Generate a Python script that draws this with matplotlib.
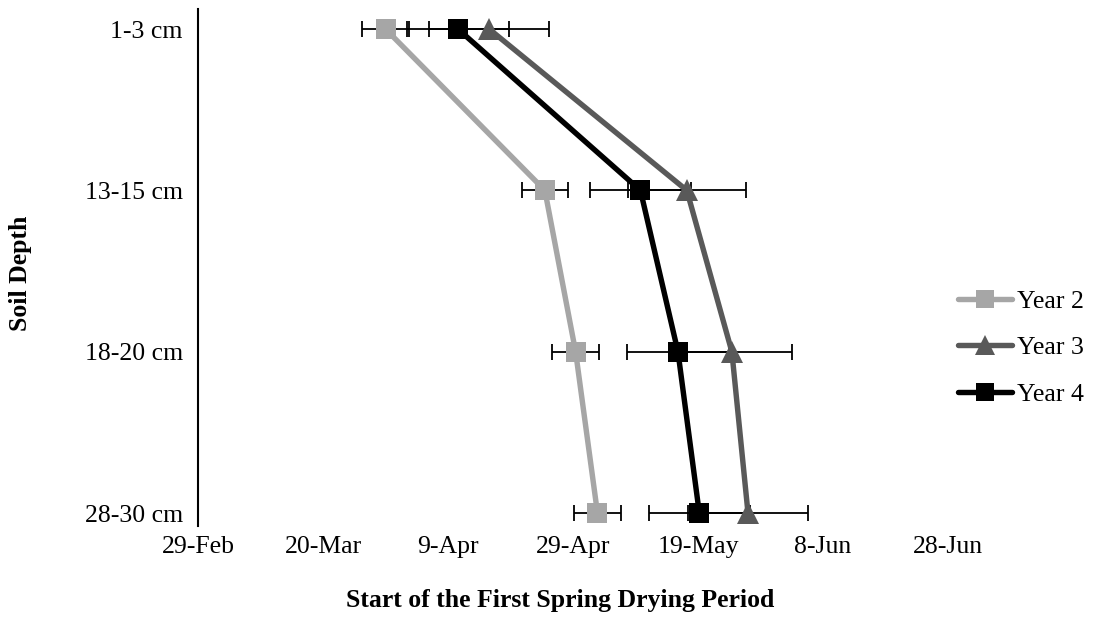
import matplotlib
matplotlib.use("Agg")
import matplotlib.pyplot as plt
import matplotlib.dates as mdates
import numpy as np

depths = ["1-3 cm", "13-15 cm", "18-20 cm", "28-30 cm"]
tick_dates = ["2012-02-29", "2012-03-20", "2012-04-09", "2012-04-29",
              "2012-05-19", "2012-06-08", "2012-06-28"]
year2 = ["2012-03-30", "2012-04-24 12:00", "2012-04-29 10:00", "2012-05-02 22:00"]
year3 = ["2012-04-15 14:00", "2012-05-17 05:00", "2012-05-24 10:00", "2012-05-27"]
year4 = ["2012-04-10 14:00", "2012-05-09 19:00", "2012-05-15 19:00", "2012-05-19 05:00"]
err2 = [3.7, 3.7, 3.7, 3.7]
err3 = [9.6, 9.4, 9.6, 9.6]
err4 = [8.1, 8.1, 8.1, 8.1]

plt.rcParams['font.family'] = ['Liberation Serif', 'DejaVu Serif']
FS = 18.5

fig = plt.figure(figsize=(10.94, 6.17), dpi=100)
ax = fig.add_axes([198/1094, (617-526)/617, 750/1094, (526-9)/617])

ypos = np.arange(len(depths))[::-1]  # 1-3 cm at top
series = [
    ("Year 2", year2, err2, "#A6A6A6", "s", 14.5),
    ("Year 3", year3, err3, "#595959", "^", 15.5),
    ("Year 4", year4, err4, "#000000", "s", 14.5),
]
for name, vals, err, col, mk, ms in series:
    x = mdates.datestr2num(vals)
    ax.errorbar(x, ypos, xerr=err, fmt='none', ecolor='black', elinewidth=1.3,
                capsize=5.5, capthick=1.3, zorder=2)
    ax.plot(x, ypos, color=col, lw=3.9, marker=mk, markersize=ms,
            markeredgewidth=0, label=name, zorder=3, solid_joinstyle='round',
            solid_capstyle='round')

ticks = mdates.datestr2num(tick_dates)
ax.set_xlim(ticks[0], ticks[-1])
ax.set_xticks(ticks)
ax.xaxis.set_major_formatter(mdates.DateFormatter('%-d-%b'))
ax.set_ylim(-0.08, 3.124)
ax.set_yticks(ypos)
ax.set_yticklabels(depths)
ax.tick_params(axis='both', length=0, labelsize=FS)
ax.tick_params(axis='y', pad=11)
ax.tick_params(axis='x', pad=7)
for s in ['top', 'right', 'bottom']:
    ax.spines[s].set_visible(False)
ax.spines['left'].set_linewidth(1.5)

fig.text(560/1094, 1 - 601/617, "Start of the First Spring Drying Period",
         ha='center', va='center', fontsize=FS, fontweight='bold')
fig.text(21/1094, 1 - 273/617, "Soil Depth", rotation=90,
         ha='center', va='center', fontsize=FS, fontweight='bold')

leg = fig.legend(loc='center left', bbox_to_anchor=(950/1094, 1 - 348/617),
                 frameon=False, fontsize=FS, handlelength=2.1, handletextpad=0.2,
                 labelspacing=0.92, markerscale=0.9, borderaxespad=0, borderpad=0.3)

fig.savefig("out.png", dpi=100)
